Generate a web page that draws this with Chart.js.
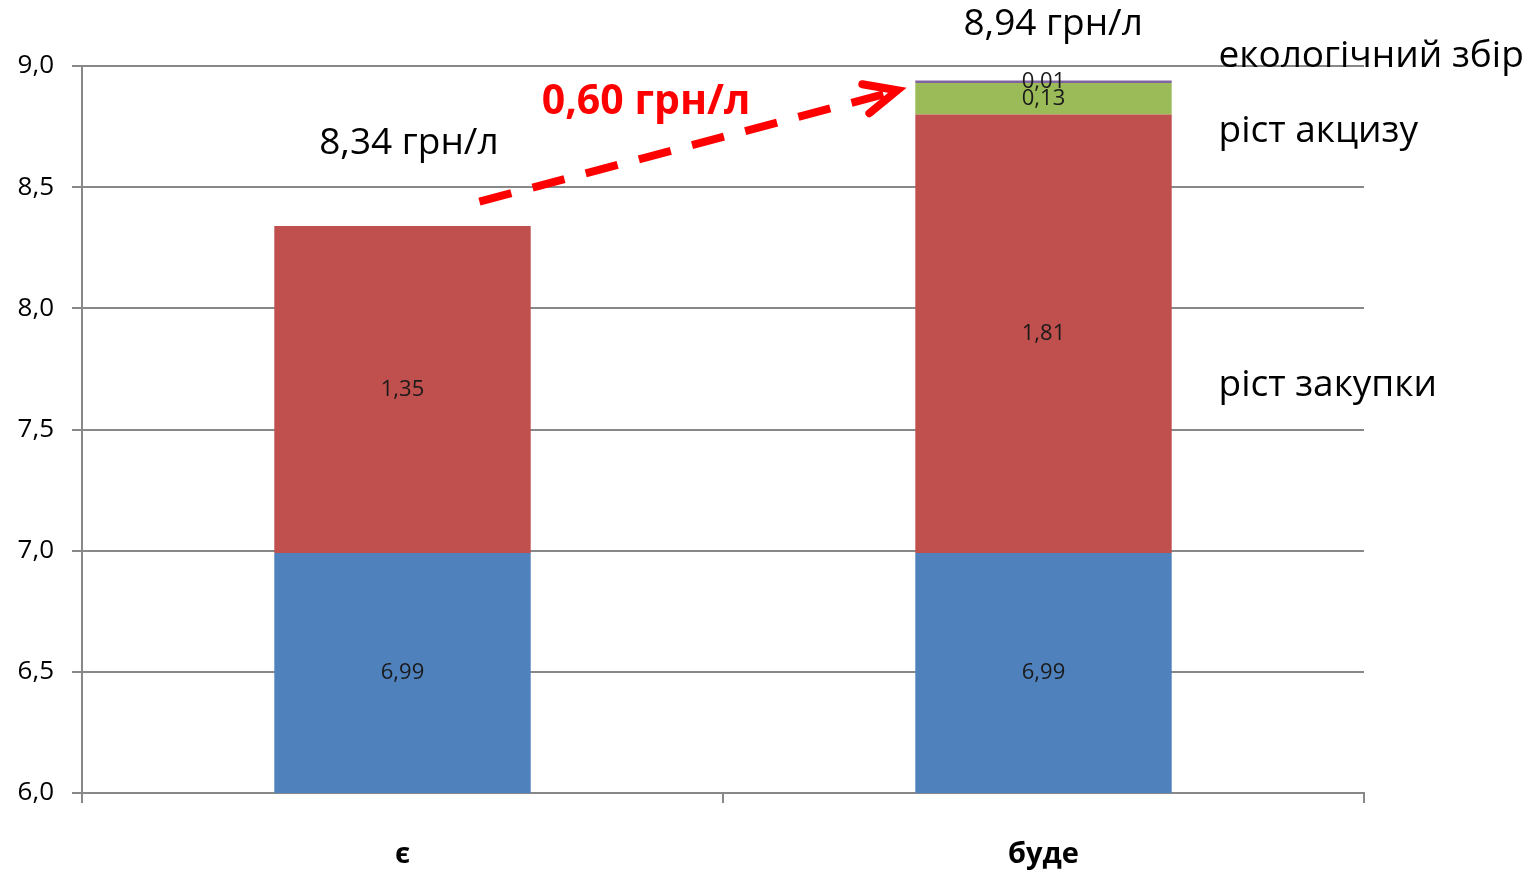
<!DOCTYPE html>
<html>
<head>
<meta charset="utf-8">
<script src="https://cdn.jsdelivr.net/npm/chart.js@4/dist/chart.umd.min.js"></script>
<style>
  html, body { margin: 0; padding: 0; background: #fff; }
  #wrap { width: 1530px; height: 873px; }
</style>
</head>
<body>
<div id="wrap"><canvas id="chart" width="1530" height="873"></canvas></div>
<script>
// categories and stacked segments (грн/л)
const categories = ['є', 'буде'];
const basePrice = [6.99, 6.99];
const purchaseGrowth = [1.35, 1.81];
const exciseGrowth = [0, 0.13];
const ecoFee = [0, 0.01];
const totals = ['8,34 грн/л', '8,94 грн/л'];
const deltaLabel = '0,60 грн/л';
const seriesNames = ['', 'ріст закупки', 'ріст акцизу', 'екологічний збір'];

const COLORS = ['#4F81BD', '#C0504D', '#9BBB59', '#8064A2'];
const GRID = '#888888';
const FONT = 'Open Sans';

const fmt = v => v.toFixed(2).replace('.', ',');

// draws segment values, totals, the dashed arrow and series names
const annotations = {
  id: 'annotations',
  afterDatasetsDraw(chart) {
    const { ctx, scales: { x, y } } = chart;
    ctx.save();
    ctx.textAlign = 'center';
    ctx.textBaseline = 'middle';

    // segment values, centred on the visible part of each segment
    ctx.font = `22px ${FONT}`;
    ctx.fillStyle = '#1a1a1a';
    chart.data.datasets.forEach((ds, di) => {
      chart.getDatasetMeta(di).data.forEach((bar, i) => {
        const v = ds.data[i];
        if (!v) return;
        const cy = (bar.y + Math.min(bar.base, y.bottom)) / 2;
        ctx.fillText(fmt(v), bar.x, cy);
      });
    });

    // totals above bars
    ctx.font = `37px ${FONT}`;
    ctx.fillStyle = '#000';
    ctx.fillText(totals[0], x.getPixelForValue(0.01), y.getPixelForValue(8.68));
    ctx.fillText(totals[1], x.getPixelForValue(1.015), y.getPixelForValue(9.17));

    // series names on the right
    ctx.textAlign = 'left';
    const nx = x.getPixelForValue(1) + 175;
    ctx.fillText(seriesNames[3], nx, y.getPixelForValue(9.04));
    ctx.fillText(seriesNames[2], nx, y.getPixelForValue(8.73));
    ctx.fillText(seriesNames[1], nx, y.getPixelForValue(7.68));

    // dashed arrow
    const x0 = x.getPixelForValue(0.12), y0 = y.getPixelForValue(8.44);
    const x1 = x.getPixelForValue(0.772), y1 = y.getPixelForValue(8.9);
    ctx.strokeStyle = '#FF0000';
    ctx.lineWidth = 8;
    ctx.setLineDash([33, 22]);
    ctx.beginPath();
    ctx.moveTo(x0, y0);
    ctx.lineTo(x1 - 6, y1 + 2);
    ctx.stroke();
    ctx.setLineDash([]);
    ctx.lineCap = 'round';
    ctx.lineJoin = 'miter';
    ctx.beginPath();
    ctx.moveTo(x1 - 35, y1 - 6);
    ctx.lineTo(x1, y1);
    ctx.lineTo(x1 - 28, y1 + 23);
    ctx.stroke();

    // delta label
    ctx.textAlign = 'center';
    ctx.font = `bold 41px ${FONT}`;
    ctx.fillStyle = '#FF0000';
    ctx.fillText(deltaLabel, x.getPixelForValue(0.38), y.getPixelForValue(8.85));
    ctx.restore();
  }
};

new Chart(document.getElementById('chart').getContext('2d'), {
  type: 'bar',
  data: {
    labels: categories,
    datasets: [basePrice, purchaseGrowth, exciseGrowth, ecoFee].map((d, i) => ({
      label: seriesNames[i],
      data: d,
      backgroundColor: COLORS[i],
      borderWidth: 0,
      categoryPercentage: 1,
      barPercentage: 0.4,
    }))
  },
  options: {
    responsive: false,
    animation: false,
    layout: { padding: { top: 66, right: 166, left: 0, bottom: 0 } },
    plugins: { legend: { display: false }, tooltip: { enabled: false } },
    scales: {
      x: {
        stacked: true,
        afterFit: s => { s.height = 80; },
        grid: { drawOnChartArea: false, color: GRID, lineWidth: 2, tickLength: 10 },
        border: { color: GRID, width: 2 },
        ticks: { font: { family: FONT, size: 29, weight: 'bold' }, color: '#000', padding: 34 }
      },
      y: {
        stacked: true,
        min: 6,
        max: 9,
        afterFit: s => { s.width = 82; },
        grid: { color: GRID, lineWidth: 2, tickLength: 10 },
        border: { color: GRID, width: 2 },
        ticks: {
          stepSize: 0.5,
          font: { family: FONT, size: 26 },
          color: '#000',
          padding: 18,
          callback: v => v.toFixed(1).replace('.', ',')
        }
      }
    }
  },
  plugins: [annotations]
});
</script>
</body>
</html>
